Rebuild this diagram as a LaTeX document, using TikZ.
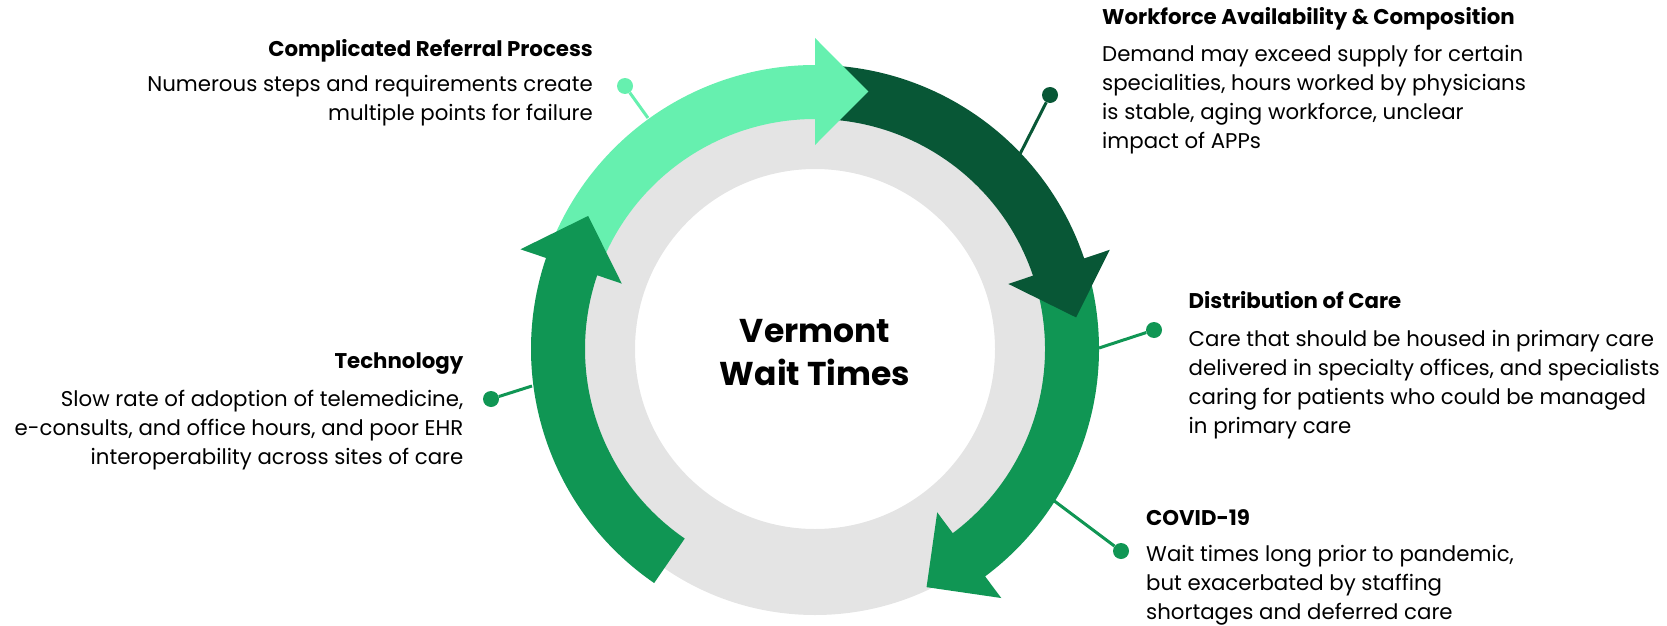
\documentclass[tikz,border=0pt]{standalone}
\usepackage{fontspec}
\setmainfont{Poppins}
\usepackage{xcolor}
\usetikzlibrary{positioning}
\definecolor{lightgrn}{RGB}{102, 240, 175}
\definecolor{darkgrn}{RGB}{8, 87, 54}
\definecolor{midgrn}{RGB}{16, 150, 84}
\definecolor{ringgray}{RGB}{228, 228, 228}

\begin{document}
\begin{tikzpicture}[x=1pt, y=-1pt,
    hd/.style={inner sep=0pt, font=\bfseries\fontsize{21.3}{29}\selectfont},
    txt/.style={inner sep=0pt, font=\fontsize{21.3}{29}\selectfont},
    dot/.style={circle, inner sep=0pt, minimum size=16pt},
    conn/.style={line width=3pt}]

    \useasboundingbox (0,0) rectangle (1667,626);

    % Connectors
    \coordinate (refA) at (648,118);
    \node[dot, fill=lightgrn] (refD) at (625,86) {};
    \coordinate (wfA) at (1020,154);
    \node[dot, fill=darkgrn] (wfD) at (1050,95) {};
    \coordinate (distA) at (1099,348);
    \node[dot, fill=midgrn] (distD) at (1154,330) {};
    \coordinate (covA) at (1053,500);
    \node[dot, fill=midgrn] (covD) at (1121,551) {};
    \coordinate (techA) at (532,386);
    \node[dot, fill=midgrn] (techD) at (491,399) {};

    \draw[conn, lightgrn] (refA) -- (refD);
    \draw[conn, darkgrn] (wfA) -- (wfD);
    \draw[conn, midgrn] (distA) -- (distD);
    \draw[conn, midgrn] (covA) -- (covD);
    \draw[conn, midgrn] (techA) -- (techD);

    % Ring and arrows
    \begin{scope}[shift={(815,349)}, yscale=-1]
    \fill[ringgray, even odd rule] (0,0) circle[radius=266] (0,0) circle[radius=180];
    % distribution / covid
    \fill[midgrn] (16:284) arc[start angle=16, end angle=-53.2, radius=284]
        -- (-53.2:311) -- (-64.9:263) -- (-53.2:204) -- (-53.2:230)
        arc[start angle=-53.2, end angle=16, radius=230] -- cycle;
    % workforce
    \fill[darkgrn] (88:284) arc[start angle=88, end angle=18.6, radius=284]
        -- (18.6:311) -- (6.9:263) -- (18.6:204) -- (18.6:230)
        arc[start angle=18.6, end angle=88, radius=230] -- cycle;
    % referral
    \fill[lightgrn] (158:284) arc[start angle=158, end angle=90, radius=284]
        -- (90:311) -- (78.3:263) -- (90:204) -- (90:230)
        arc[start angle=90, end angle=158, radius=230] -- cycle;
    % technology
    \fill[midgrn] (235.5:284) arc[start angle=235.5, end angle=161.3, radius=284]
        -- (161.3:311) -- (149.6:263) -- (161.3:204) -- (161.3:230)
        arc[start angle=161.3, end angle=235.5, radius=230] -- cycle;
    \end{scope}

    % Centre
    \node[inner sep=0pt, align=center, font=\bfseries\fontsize{33}{43}\selectfont,
          anchor=base] (centre) at (815,385) {Vermont\\Wait Times};

    % Labels (base = last line)
    \node[hd, anchor=base east] (refT) at (593,56.7) {Complicated Referral Process};
    \node[txt, align=right, anchor=base east] (refB) at (593,120.7)
        {Numerous steps and requirements create\\multiple points for failure};

    \node[hd, anchor=base west] (wfT) at (1102,25) {Workforce Availability \& Composition};
    \node[txt, align=left, anchor=base west] (wfB) at (1102,148.7)
        {Demand may exceed supply for certain\\specialities, hours worked by physicians\\is stable, aging workforce, unclear\\impact of APPs};

    \node[hd, anchor=base west] (distT) at (1188.5,308) {Distribution of Care};
    \node[txt, align=left, anchor=base west] (distB) at (1188.5,433.5)
        {Care that should be housed in primary care\\delivered in specialty offices, and specialists\\caring for patients who could be managed\\in primary care};

    \node[hd, anchor=base west] (covT) at (1146,525) {COVID-19};
    \node[txt, align=left, anchor=base west] (covB) at (1146,619)
        {Wait times long prior to pandemic,\\but exacerbated by staffing\\shortages and deferred care};

    \node[hd, anchor=base east] (techT) at (463.5,368) {Technology};
    \node[txt, align=right, anchor=base east] (techB) at (463.5,464)
        {Slow rate of adoption of telemedicine,\\e-consults, and office hours, and poor EHR\\interoperability across sites of care};
\end{tikzpicture}
\end{document}
